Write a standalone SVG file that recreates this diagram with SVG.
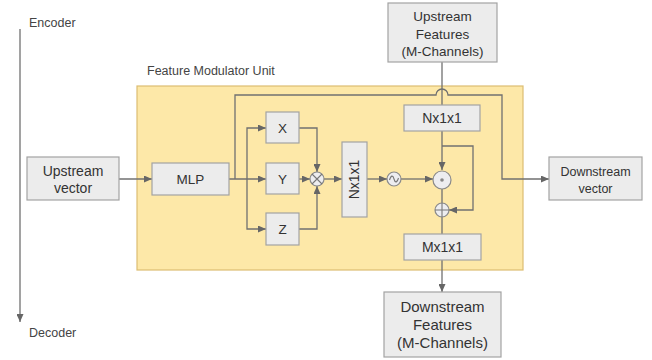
<svg xmlns="http://www.w3.org/2000/svg" width="652" height="360" viewBox="0 0 652 360">
<defs>
<style>
.box{fill:#ececec;stroke:#a3a3a3;stroke-width:1.2}
.unit{fill:#fde8a8;stroke:#dcbd72;stroke-width:1.2}
.t{font-family:"Liberation Sans",Arial,sans-serif;fill:#333;text-anchor:middle}
.lbl{font-family:"Liberation Sans",Arial,sans-serif;fill:#444;font-size:12.5px}
.c{fill:none;stroke:#707070;stroke-width:1.3}
.ca{fill:none;stroke:#707070;stroke-width:1.3;marker-end:url(#ah)}
.op{fill:#ededf0;stroke:#8a8a8a;stroke-width:1.2}
.sym{fill:none;stroke:#777;stroke-width:1.1}
</style>
<marker id="ah" markerWidth="8" markerHeight="7" refX="8" refY="3.5" orient="auto" markerUnits="userSpaceOnUse">
<path d="M0,0 L8,3.5 L0,7 z" fill="#666"/>
</marker>
</defs>
<rect width="652" height="360" fill="#ffffff"/>

<g id="axis">
<text class="lbl" x="29" y="27">Encoder</text>
<text class="lbl" x="29" y="337">Decoder</text>
</g>

<g id="fmu">
<rect class="unit" x="137" y="86" width="386" height="184"/>
<text class="lbl" x="147" y="75">Feature Modulator Unit</text>
</g>

<g id="connectors">
<path class="ca" d="M20,29 V322"/>
<path class="ca" d="M119,179 H152"/>
<path class="ca" d="M229,179 H266"/>
<path class="ca" d="M247,179 V128 H266"/>
<path class="ca" d="M247,179 V229 H266"/>
<path class="ca" d="M235,179 V95 H436 A6,6 0 0 1 448,95 H502 V179 H549"/>
<path class="ca" d="M299,128 H317 V172"/>
<path class="ca" d="M299,179 H310"/>
<path class="ca" d="M299,229 H317 V186"/>
<path class="ca" d="M324,179 H342"/>
<path class="ca" d="M367,179 H387"/>
<path class="ca" d="M401,179 H433"/>
<path class="c" d="M442,62 V105"/>
<path class="ca" d="M442,131 V170"/>
<path class="ca" d="M442,146 H473 V210 H449"/>
<path class="c" d="M442,189 V203"/>
<path class="c" d="M442,217 V234"/>
<path class="ca" d="M442,260 V292"/>
</g>

<g id="upstream-vector">
<rect class="box" x="27" y="157" width="92" height="43"/>
<text class="t" x="73" y="176" font-size="14">Upstream</text>
<text class="t" x="73" y="193" font-size="14">vector</text>
</g>

<g id="mlp">
<rect class="box" x="152" y="163" width="77" height="32"/>
<text class="t" x="190.5" y="184" font-size="13.5">MLP</text>
</g>

<g id="x">
<rect class="box" x="266" y="112" width="33" height="31"/>
<text class="t" x="282.5" y="132.5" font-size="13.5">X</text>
</g>
<g id="y">
<rect class="box" x="266" y="163" width="33" height="31"/>
<text class="t" x="282.5" y="183.5" font-size="13.5">Y</text>
</g>
<g id="z">
<rect class="box" x="266" y="213" width="33" height="32"/>
<text class="t" x="282.5" y="234" font-size="13.5">Z</text>
</g>

<g id="multiply">
<circle class="op" cx="317" cy="179" r="7"/>
<path class="sym" d="M312,174 L322,184 M322,174 L312,184"/>
</g>

<g id="nx1x1-vertical">
<rect class="box" x="342" y="142" width="25" height="75"/>
<text class="t" x="0" y="0" font-size="14" transform="translate(359,179.5) rotate(-90)">Nx1x1</text>
</g>

<g id="activation">
<circle class="op" cx="394" cy="179" r="7"/>
<path class="sym" d="M389.5,180 C391,175 393,175 394,179 C395,183 397,183 398.5,178"/>
</g>

<g id="upstream-features">
<rect class="box" x="388" y="3" width="109" height="59"/>
<text class="t" x="442.5" y="21" font-size="13.5">Upstream</text>
<text class="t" x="442.5" y="38.5" font-size="13.5">Features</text>
<text class="t" x="442.5" y="56" font-size="13.5">(M-Channels)</text>
</g>

<g id="nx1x1">
<rect class="box" x="404" y="105" width="76" height="26"/>
<text class="t" x="442" y="123" font-size="14">Nx1x1</text>
</g>

<g id="scale">
<circle class="op" cx="442" cy="180" r="9"/>
<circle cx="442" cy="180" r="1.8" fill="#888"/>
</g>

<g id="add">
<circle class="op" cx="442" cy="210" r="7"/>
<path class="sym" d="M435,210 H449 M442,203 V217"/>
</g>

<g id="mx1x1">
<rect class="box" x="404" y="234" width="77" height="26"/>
<text class="t" x="442.5" y="252" font-size="14">Mx1x1</text>
</g>

<g id="downstream-vector">
<rect class="box" x="549" y="157" width="93" height="43"/>
<text class="t" x="595.5" y="176" font-size="12.5">Downstream</text>
<text class="t" x="595.5" y="193" font-size="12.5">vector</text>
</g>

<g id="downstream-features">
<rect class="box" x="384" y="292" width="117" height="65"/>
<text class="t" x="442.5" y="312" font-size="15">Downstream</text>
<text class="t" x="442.5" y="330" font-size="15">Features</text>
<text class="t" x="442.5" y="348" font-size="15">(M-Channels)</text>
</g>
</svg>
